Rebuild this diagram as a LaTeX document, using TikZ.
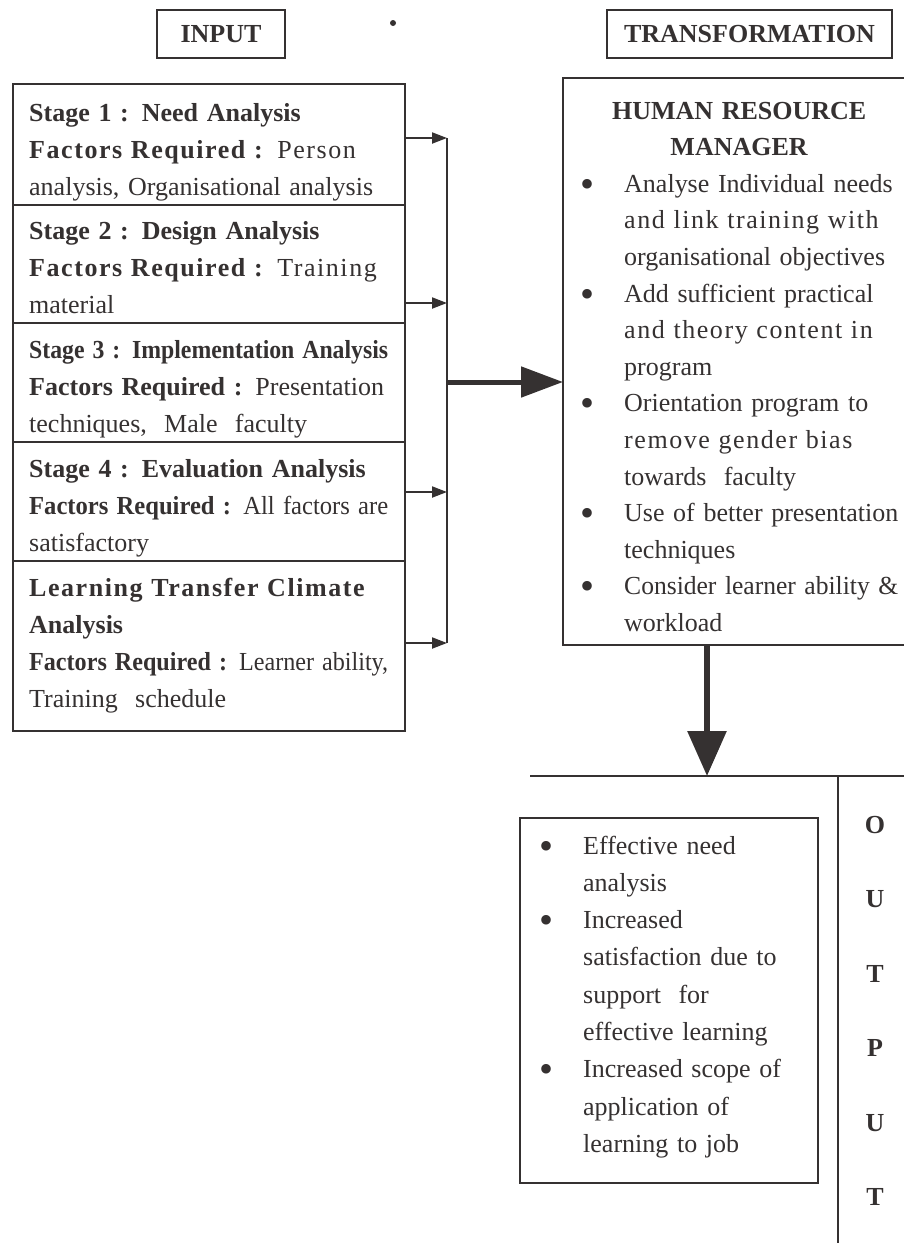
\documentclass[tikz,border=0pt]{standalone}
\usepackage{fontspec}
\usepackage{graphicx}
\setmainfont{Liberation Serif}
\usetikzlibrary{arrows.meta}
\definecolor{ink}{HTML}{353131}

% line helpers: a line set to a given width, stretched if short, squeezed if long
\newsavebox{\lbox}
\newlength{\fitw}
\newcommand{\fitline}[1]{\sbox{\lbox}{#1}\ifdim\wd\lbox>\fitw\resizebox{\fitw}{\height}{\usebox{\lbox}}\else\makebox[\fitw][s]{#1}\fi}
\newcommand{\jline}[1]{\setlength{\fitw}{\linewidth}\fitline{#1}}
\newcommand{\spread}[1]{{\addfontfeature{LetterSpace=6}#1}}
% bullet lists set line by line
\newlength{\hangw}\setlength{\hangw}{44pt}
\newcommand{\bdot}{\raisebox{-5pt}{\fontsize{40}{40}\selectfont\textbullet}}
\newcommand{\bl}[1]{\makebox[\hangw][l]{\bdot}\setlength{\fitw}{\dimexpr\linewidth-\hangw\relax}\fitline{#1}}
\newcommand{\blr}[1]{\makebox[\hangw][l]{\bdot}#1}
\newcommand{\cl}[1]{\hspace*{\hangw}\setlength{\fitw}{\dimexpr\linewidth-\hangw\relax}\fitline{#1}}
\newcommand{\clr}[1]{\hspace*{\hangw}#1}

\tikzset{
  frame/.style={draw=ink, line width=2.7pt, rectangle, inner sep=0pt, outer sep=0pt},
  title/.style={frame, font=\fontsize{26}{30}\selectfont\bfseries, text=ink},
  txt/.style={anchor=base west, inner sep=0pt, align=left, text=ink},
  busline/.style={draw=ink, line width=2.4pt},
  feed/.style={draw=ink, line width=2pt, -{Triangle[length=15pt,width=11pt]}},
  mainarrow/.style={draw=ink, line width=5pt, -{Triangle[length=42pt,width=30pt]}},
  downarrow/.style={draw=ink, line width=6pt, -{Triangle[length=45pt,width=38pt]}},
  rule/.style={draw=ink, line width=2.7pt}
}

\begin{document}
\begin{tikzpicture}[x=1pt, y=-1pt, font=\fontsize{26}{37.3}\selectfont]
\useasboundingbox (0,0) rectangle (904,1243);
\fill[white] (0,0) rectangle (904,1243);
\clip (0,0) rectangle (904,1243);

% headings
\node[title, minimum width=128pt, minimum height=48pt] (input) at (221,34) {INPUT};
\node[title, minimum width=285pt, minimum height=48pt] (transf) at (749.5,34) {TRANSFORMATION};
\fill[ink] (393,23) circle (3);

% input stages
\node[frame, anchor=north west, minimum width=392pt, minimum height=121pt] (f1) at (13,84) {};
\node[frame, anchor=north west, minimum width=392pt, minimum height=118pt] (f2) at (13,205) {};
\node[frame, anchor=north west, minimum width=392pt, minimum height=119pt] (f3) at (13,323) {};
\node[frame, anchor=north west, minimum width=392pt, minimum height=119pt] (f4) at (13,442) {};
\node[frame, anchor=north west, minimum width=392pt, minimum height=170pt] (f5) at (13,561) {};

\node[txt, text width=359pt] (s1) at (29,121) {%
\textbf{Stage 1 : Need Analysis}\\
\jline{\spread{\textbf{Factors Required :} Person}}\\
\jline{analysis, Organisational analysis}};
\node[txt, text width=359pt] (s2) at (29,239) {%
\textbf{Stage 2 : Design Analysis}\\
\jline{\spread{\textbf{Factors Required :} Training}}\\
material};
\node[txt, text width=359pt] (s3) at (29,358) {%
\jline{\textbf{Stage 3 : Implementation Analysis}}\\
\jline{\textbf{Factors Required :} Presentation}\\
techniques,~ Male~ faculty};
\node[txt, text width=359pt] (s4) at (29,477) {%
\textbf{Stage 4 : Evaluation Analysis}\\
\jline{\textbf{Factors Required :} All factors are}\\
satisfactory};
\node[txt, text width=359pt] (s5) at (29,596) {%
\jline{\spread{\textbf{Learning Transfer Climate}}}\\
\textbf{Analysis}\\
\jline{\textbf{Factors Required :} Learner ability,}\\
Training~ schedule};

% collecting bus
\coordinate (b1) at (447,138);
\coordinate (b2) at (447,303);
\coordinate (b3) at (447,382);
\coordinate (b4) at (447,492);
\coordinate (b5) at (447,643);
\draw[busline] (b1) -- (b5);
\draw[feed] (f1.east |- b1) -- (b1);
\draw[feed] (f2.east |- b2) -- (b2);
\draw[feed] (f4.east |- b4) -- (b4);
\draw[feed] (f5.east |- b5) -- (b5);

% transformation block
\node[frame, anchor=north west, minimum width=370pt, minimum height=567pt] (hrm) at (563,78) {};
\node[txt, text width=318pt, font=\fontsize{26}{36.6}\selectfont] (hrmtext) at (580,119) {%
\makebox[\linewidth]{\textbf{HUMAN RESOURCE}}\\
\makebox[\linewidth]{\textbf{MANAGER}}\\
\bl{Analyse Individual needs}\\
\cl{\spread{and link training with}}\\
\cl{organisational objectives}\\
\bl{Add sufficient practical}\\
\cl{\spread{and theory content in}}\\
\clr{program}\\
\bl{Orientation program to}\\
\cl{\spread{remove gender bias}}\\
\clr{towards~ faculty}\\
\bl{Use of better presentation}\\
\clr{techniques}\\
\bl{Consider learner ability \&}\\
\clr{workload}};
\draw[mainarrow] (b3) -- (hrm.west |- b3);

% output block
\coordinate (hit) at (707,776);
\coordinate (ol) at (530,776);
\coordinate (or) at (930,776);
\coordinate (ot) at (838,776);
\coordinate (ob) at (838,1260);
\draw[rule] (ol) -- (or);
\draw[rule] (ot) -- (ob);
\draw[downarrow] (hit |- hrm.south) -- (hit);

\node[frame, anchor=north west, minimum width=298pt, minimum height=365pt] (res) at (520,818) {};
\node[txt, text width=254pt] (restext) at (539,854) {%
\blr{Effective need}\\
\clr{analysis}\\
\blr{Increased}\\
\cl{satisfaction due to}\\
\clr{support~ for}\\
\clr{effective learning}\\
\bl{Increased scope of}\\
\clr{application of}\\
\clr{learning to job}};

\node[anchor=north, inner sep=0pt, align=center, text=ink,
      font=\fontsize{26}{74.5}\selectfont\bfseries] (outword) at (875,816)
      {O\\U\\T\\P\\U\\T};
\end{tikzpicture}
\end{document}
